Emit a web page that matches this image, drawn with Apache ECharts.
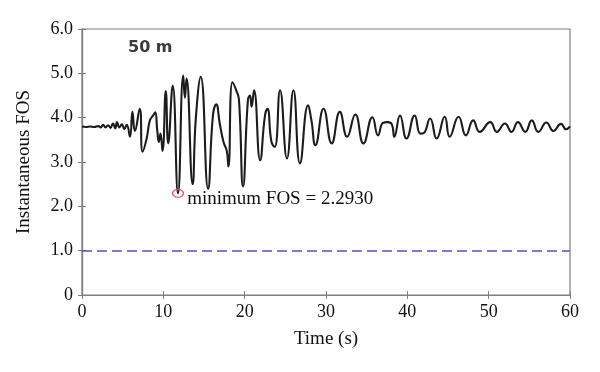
<!DOCTYPE html>
<html>
<head>
<meta charset="utf-8">
<script src="https://cdn.jsdelivr.net/npm/echarts@6/dist/echarts.min.js"></script>
<style>html,body{margin:0;padding:0;background:#fff}#c{width:600px;height:372px}</style>
</head>
<body>
<div id="c"></div>
<script>
var times = [0,0.5,1.0,1.5,2.0,2.3,2.6,2.9,3.2,3.5,3.8,4.1,4.3,4.6,4.9,5.2,5.5,5.9,6.2,6.5,7.1,7.45,7.95,8.35,8.75,9.0,9.25,9.45,9.65,9.9,10.3,10.6,11.15,11.8,12.45,12.65,12.85,13.6,14.0,14.6,15.5,16.1,16.5,16.95,17.4,17.8,18.0,18.5,19.0,19.3,19.8,20.4,20.65,20.85,21.15,21.9,22.5,22.8,23.3,23.7,24.35,25.2,26.0,26.8,27.8,28.2,28.7,29.7,30.7,31.7,32.6,33.6,34.6,35.7,36.4,37.0,37.6,38.1,38.4,39.1,39.9,40.9,41.6,42.0,42.8,43.6,44.6,45.2,46.3,47.2,48.1,48.9,50.2,51.0,52.0,52.8,53.6,54.5,55.3,56.1,57.1,57.95,58.9,59.5,60.0];
var fos = [3.80,3.79,3.80,3.79,3.81,3.78,3.84,3.78,3.83,3.77,3.87,3.76,3.90,3.78,3.85,3.74,3.84,3.57,4.13,3.70,4.20,3.23,3.53,3.94,4.05,4.12,3.72,3.45,3.64,3.25,4.60,3.42,4.72,2.293,4.95,4.45,4.88,2.50,4.00,4.92,2.40,4.05,4.30,3.85,3.45,3.25,2.90,4.80,4.60,4.40,2.45,4.40,4.50,4.25,4.62,3.04,4.05,4.20,3.45,3.34,4.62,3.08,4.62,2.97,4.28,3.95,3.38,4.20,3.42,4.13,3.57,4.07,3.42,4.01,3.60,3.88,3.90,3.85,3.57,4.05,3.53,4.05,3.64,3.65,3.98,3.53,4.02,3.57,4.02,3.60,3.94,3.68,3.90,3.68,3.87,3.68,3.90,3.68,3.94,3.68,3.89,3.70,3.86,3.74,3.80];
var xTicks = [0,10,20,30,40,50,60];
var yTicks = [0,1,2,3,4,5,6];
var threshold = 1.0;
var minPoint = [11.8, 2.293];
var minLabel = 'minimum FOS = 2.2930';
var depthLabel = '50 m';

var pts = times.map(function(t,i){return [t,fos[i]];});
var serif = 'Liberation Serif';
var frame = '#808080';
var chart = echarts.init(document.getElementById('c'));
chart.setOption({
  animation:false,
  title:{text:depthLabel,left:123,top:35,textStyle:{fontFamily:'DejaVu Sans',fontSize:16,fontWeight:'bold',color:'#3a3a3a'}},
  grid:{left:82,right:30,top:29,bottom:77,show:true,borderColor:frame,borderWidth:1.2},
  xAxis:[{type:'value',min:xTicks[0],max:xTicks[xTicks.length-1],interval:10,
    name:'Time (s)',nameLocation:'middle',nameGap:35,
    nameTextStyle:{fontFamily:serif,fontSize:19,color:'#111'},
    axisLine:{lineStyle:{color:frame,width:1.2}},
    axisTick:{inside:true,length:4,lineStyle:{color:frame}},
    axisLabel:{fontFamily:serif,fontSize:18,color:'#111',margin:8},
    splitLine:{show:false}},
   {type:'value',position:'top',min:0,max:60,interval:10,
    axisLine:{lineStyle:{color:frame,width:1.2}},
    axisTick:{inside:true,length:4,lineStyle:{color:frame}},
    axisLabel:{show:false},splitLine:{show:false}}],
  yAxis:[{type:'value',min:yTicks[0],max:yTicks[yTicks.length-1],interval:1,
    name:'Instantaneous FOS',nameLocation:'middle',nameGap:48,
    nameTextStyle:{fontFamily:serif,fontSize:19,color:'#111'},
    axisLine:{show:true,lineStyle:{color:frame,width:1.2}},
    axisTick:{show:true,inside:true,length:4,lineStyle:{color:frame}},
    axisLabel:{fontFamily:serif,fontSize:18,color:'#111',margin:9,
      formatter:function(v){return v===0?'0':v.toFixed(1);}},
    splitLine:{show:false}},
   {type:'value',position:'right',min:0,max:6,interval:1,
    axisLine:{show:true,lineStyle:{color:frame,width:1.2}},
    axisTick:{show:true,inside:true,length:4,lineStyle:{color:frame}},
    axisLabel:{show:false},splitLine:{show:false}}],
  series:[{type:'line',data:pts,showSymbol:false,smooth:0.5,
    lineStyle:{color:'#1c1c1c',width:2.1},
    markLine:{silent:true,symbol:'none',label:{show:false},
      lineStyle:{color:'#5252c2',width:1.5,type:[10,5]},
      data:[{yAxis:threshold}]},
    markPoint:{silent:true,symbol:'circle',symbolSize:[11,8],
      itemStyle:{color:'rgba(0,0,0,0)',borderColor:'#e0506a',borderWidth:1.2},
      label:{show:true,position:'right',distance:3,offset:[0,6],formatter:minLabel,
        fontFamily:serif,fontSize:19,color:'#111'},
      data:[{coord:minPoint}]}
  }]
});
</script>
</body>
</html>
